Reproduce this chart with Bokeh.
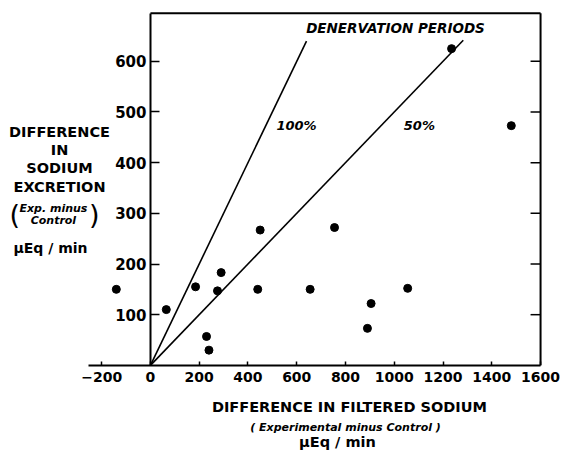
from bokeh.plotting import figure
from bokeh.models import Label, FixedTicker
from bokeh.embed import file_html
from bokeh.resources import INLINE

# ---- data ----
filtered_na = [-140, 65, 185, 275, 290, 230, 240, 450, 440, 655, 755, 890, 905, 1055, 1235, 1480]
excreted_na = [150, 110, 155, 147, 183, 57, 30, 267, 150, 150, 272, 73, 122, 152, 625, 473]
x_ticks = [-200, 0, 200, 400, 600, 800, 1000, 1200, 1400, 1600]
y_ticks = [100, 200, 300, 400, 500, 600]
line100_x = [0, 640]
line50_x = [0, 1283]
x_axis_bounds = (-254, 1600)
y_axis_bounds = (0, 695)

FONT = "DejaVu Sans"

p = figure(width=562, height=451, output_backend="svg", toolbar_location=None, title=None,
           x_range=(-615, 1690), y_range=(-170, 720),
           min_border_left=0, min_border_right=0, min_border_top=0, min_border_bottom=0)
p.outline_line_color = None
p.grid.visible = False
p.background_fill_color = "white"
p.border_fill_color = "white"

# x axis at y = 0
xa = p.xaxis[0]
xa.fixed_location = 0
xa.bounds = x_axis_bounds
xa.ticker = FixedTicker(ticks=x_ticks)
xa.axis_line_width = 2
xa.axis_line_color = "black"
xa.major_tick_in = 4
xa.major_tick_out = 0
xa.major_tick_line_width = 1.5
xa.minor_tick_line_color = None
xa.major_label_standoff = 7
xa.major_label_text_font = FONT
xa.major_label_text_font_style = "bold"
xa.major_label_text_font_size = "14px"
xa.major_label_text_color = "black"

# y axis at x = 0
ya = p.yaxis[0]
ya.fixed_location = 0
ya.bounds = y_axis_bounds
ya.ticker = FixedTicker(ticks=y_ticks)
ya.axis_line_width = 2
ya.axis_line_color = "black"
ya.major_tick_in = 9
ya.major_tick_out = 0
ya.major_tick_line_width = 1.5
ya.minor_tick_line_color = None
ya.major_label_standoff = 4
ya.major_label_text_font = FONT
ya.major_label_text_font_style = "bold"
ya.major_label_text_font_size = "15px"
ya.major_label_text_color = "black"

# top & right spines with inward ticks on the right
x_right = x_axis_bounds[1]
y_top = y_axis_bounds[1]
p.segment(x0=[0], y0=[y_top], x1=[x_right], y1=[y_top], line_color="black", line_width=2)
p.segment(x0=[x_right], y0=[0], x1=[x_right], y1=[y_top], line_color="black", line_width=2)
p.segment(x0=[x_right] * len(y_ticks), y0=y_ticks,
          x1=[x_right - 41] * len(y_ticks), y1=y_ticks, line_color="black", line_width=1.5)

# denervation lines (y = fraction * x)
p.line(line100_x, [v * 1.0 for v in line100_x], line_color="black", line_width=1.6)
p.line(line50_x, [v * 0.5 for v in line50_x], line_color="black", line_width=1.6)

# points
p.scatter(filtered_na, excreted_na, size=8, fill_color="black", line_color="black")


def lab(x, y, text, size, style="bold", align="center"):
    p.add_layout(Label(x=x, y=y, text=text, text_font=FONT, text_font_size=size,
                       text_font_style=style, text_align=align, text_baseline="middle",
                       text_color="black"))


lab(1005, 665, "DENERVATION PERIODS", "13.5px", "bold italic")
lab(599, 474, "100%", "13px", "bold italic")
lab(1103, 474, "50%", "13px", "bold italic")

# y title
lab(-373, 460, "DIFFERENCE", "14.5px")
lab(-373, 424, "IN", "14.5px")
lab(-373, 389, "SODIUM", "14.5px")
lab(-373, 351, "EXCRETION", "14.5px")
lab(-398, 310, "Exp. minus", "11px", "bold italic")
lab(-398, 286, "Control", "11px", "bold italic")
lab(-556, 298, "(", "27px", "normal")
lab(-230, 298, ")", "27px", "normal")
lab(-410, 231, "\u03bcEq / min", "14px")

# x title
lab(816, -83, "DIFFERENCE IN FILTERED SODIUM", "14.5px")
lab(800, -122, "( Experimental minus Control )", "11px", "bold italic")
lab(767, -152, "\u03bcEq / min", "14.5px")

open("out.html", "w").write(file_html(p, INLINE))
